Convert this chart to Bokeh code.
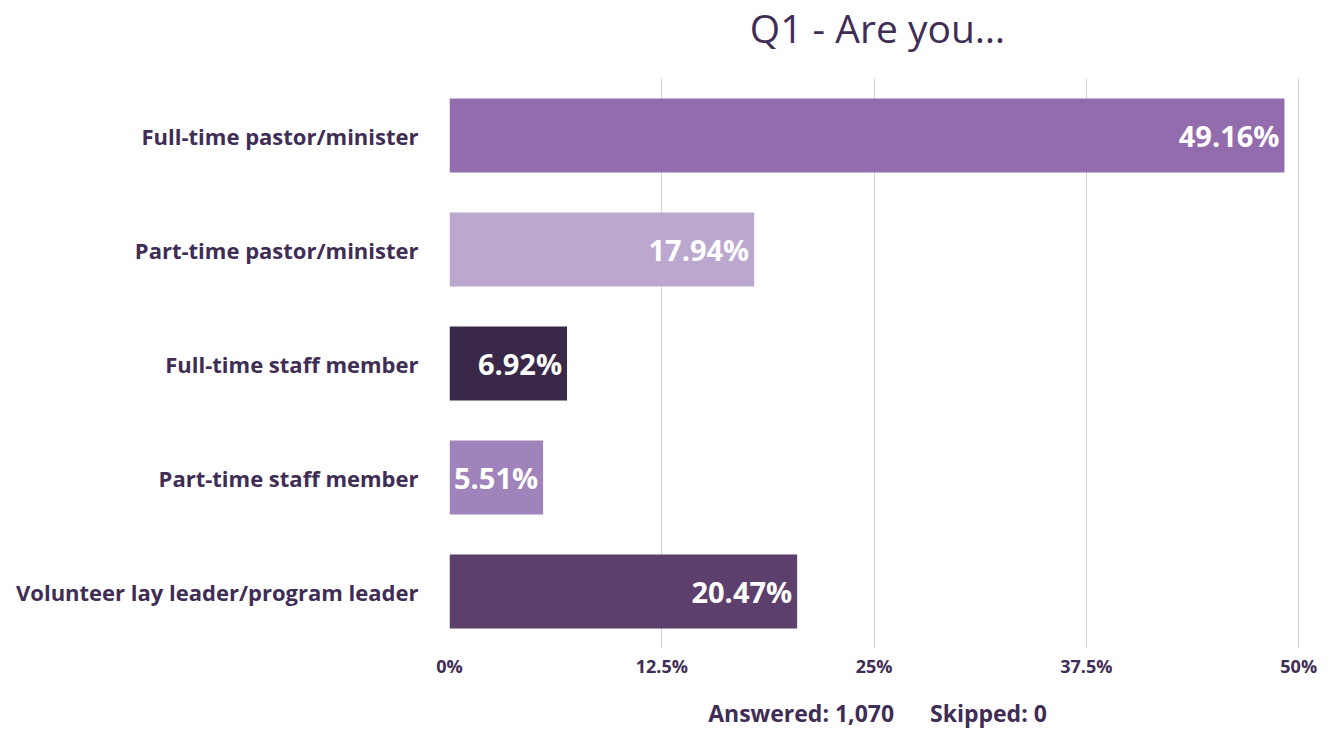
from bokeh.plotting import figure
from bokeh.models import Range1d, FactorRange, FixedTicker, Title, ColumnDataSource
from bokeh.core.properties import value
from bokeh.embed import file_html
from bokeh.resources import INLINE

categories = ["Full-time pastor/minister", "Part-time pastor/minister",
              "Full-time staff member", "Part-time staff member",
              "Volunteer lay leader/program leader"]
percentages = [49.16, 17.94, 6.92, 5.51, 20.47]
bar_colors = ["#936cad", "#bca8ce", "#3a2848", "#a183bc", "#5c3f6d"]
tick_values = [0, 12.5, 25, 37.5, 50]
tick_labels = ["0%", "12.5%", "25%", "37.5%", "50%"]
title_text = "Q1 - Are you…"
footer_text = "Answered: 1,070\u00a0\u00a0\u00a0\u00a0\u00a0\u00a0Skipped: 0"

FONT = "Open Sans"
TEXT_COLOR = "#3f2d55"

src = ColumnDataSource(dict(
    cat=categories, val=percentages, color=bar_colors,
    label=[f"{v:.2f}%" for v in percentages],
))

p = figure(width=1317, height=731, output_backend="svg", toolbar_location=None,
           y_range=FactorRange(factors=list(reversed(categories)), range_padding=0),
           x_range=Range1d(0, 50.4),
           min_border_left=449, min_border_right=12,
           min_border_top=76, min_border_bottom=79)
p.title.text = ""
p.title.standoff = 0

p.hbar(y="cat", right="val", left=0, height=0.65, fill_color="color",
       line_color=None, source=src)
p.text(x="val", y="cat", text="label", source=src, x_offset=-5,
       text_align="right", text_baseline="middle", text_color="white",
       text_font=value(FONT), text_font_size="29px", text_font_style="bold")

p.outline_line_color = None
p.ygrid.grid_line_color = None
p.xgrid.ticker = FixedTicker(ticks=tick_values[1:])
p.xgrid.grid_line_color = "#d6cfe2"
p.xgrid.grid_line_width = 1

xa = p.xaxis[0]
xa.ticker = FixedTicker(ticks=tick_values)
xa.major_label_overrides = {t: l for t, l in zip(tick_values, tick_labels)}
xa.axis_line_color = None
xa.major_tick_line_color = None
xa.major_tick_out = 0
xa.major_tick_in = 0
xa.minor_tick_line_color = None
xa.minor_tick_out = 0
xa.major_label_text_font = FONT
xa.major_label_text_font_style = "bold"
xa.major_label_text_font_size = "18px"
xa.major_label_text_color = TEXT_COLOR
xa.major_label_standoff = 5
xa.axis_label = footer_text
xa.axis_label_text_font = FONT
xa.axis_label_text_font_style = "bold"
xa.axis_label_text_font_size = "23px"
xa.axis_label_text_color = TEXT_COLOR
xa.axis_label_standoff = 16

ya = p.yaxis[0]
ya.axis_line_color = None
ya.major_tick_line_color = None
ya.major_tick_out = 0
ya.major_tick_in = 0
ya.minor_tick_line_color = None
ya.minor_tick_out = 0
ya.major_label_text_font = FONT
ya.major_label_text_font_style = "bold"
ya.major_label_text_font_size = "22px"
ya.major_label_text_color = TEXT_COLOR
ya.major_label_standoff = 31

# near-invisible spacer between the plot frame and the title
p.add_layout(Title(text=".", text_font_size="1px", text_color="white",
                   standoff=20), "above")
p.add_layout(Title(text=title_text, align="center", vertical_align="top",
                   text_font=FONT, text_font_size="39px", text_font_style="normal",
                   text_color=TEXT_COLOR, offset=0, standoff=0), "above")

open("out.html", "w").write(file_html(p, INLINE))
